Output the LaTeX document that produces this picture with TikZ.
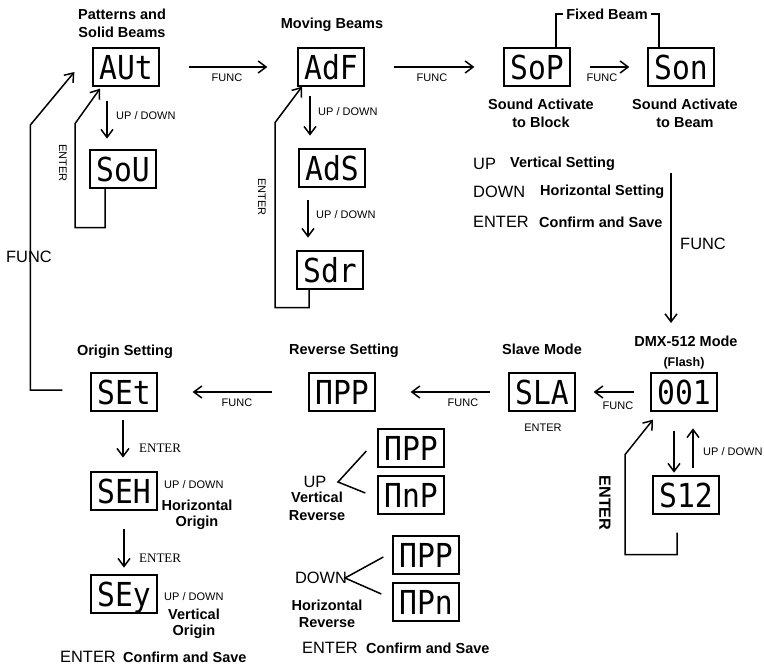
\documentclass[tikz,border=0pt]{standalone}
\usepackage{graphicx}
\usepackage{fontspec}
\setmainfont{Liberation Sans}
\newfontfamily\serifface{Liberation Serif}
\newfontfamily\dispface{DejaVu Sans Mono}
\usetikzlibrary{arrows.meta,calc}
\newcommand\dtext[1]{\scalebox{0.9}[1]{#1}}
\begin{document}
\begin{tikzpicture}[x=1pt,y=-1pt,
  disp/.style={draw,line width=1.3pt,minimum width=66pt,minimum height=38pt,inner sep=0pt,
    text height=24pt,text depth=0pt,font=\dispface\fontsize{33}{33}\selectfont},
  lbl/.style={inner sep=0pt,align=center},
  head/.style={lbl,font=\fontsize{14.5}{18}\selectfont\bfseries},
  headtight/.style={lbl,font=\fontsize{14.5}{15.5}\selectfont\bfseries},
  small/.style={lbl,font=\fontsize{11}{13}\selectfont},
  big/.style={lbl,font=\fontsize{16.4}{18}\selectfont},
  serif/.style={lbl,font=\serifface\fontsize{13}{15}\selectfont},
  line/.style={line width=1.5pt},
  arr/.style={line width=1.5pt,-{Straight Barb[length=8pt,width=12pt]}}
]
\useasboundingbox[fill=white] (0,0) rectangle (764,667);

% ---------- display boxes ----------
\node[disp] (aut) at (126,67) {\dtext{AUt}};
\node[disp] (sou) at (123,169) {\dtext{SoU}};
\node[disp] (adf) at (331,67) {\dtext{AdF}};
\node[disp] (ads) at (332,168) {\dtext{AdS}};
\node[disp] (sdr) at (330,270) {\dtext{Sdr}};
\node[disp] (sop) at (537,67) {\dtext{SoP}};
\node[disp] (son) at (681,67) {\dtext{Son}};
\node[disp] (d001) at (684,392) {\dtext{001}};
\node[disp] (s12) at (686,495) {\dtext{S12}};
\node[disp] (sla) at (542,392) {\dtext{SLA}};
\node[disp] (npp) at (342,392) {\dtext{ΠPP}};
\node[disp] (set) at (124,392) {\dtext{SEt}};
\node[disp] (seh) at (124,491) {\dtext{SEH}};
\node[disp] (sey) at (124,594) {\dtext{SEy}};
\node[disp] (npp2) at (411,448) {\dtext{ΠPP}};
\node[disp] (nnp) at (411,495) {\dtext{ΠnP}};
\node[disp] (npp3) at (426,555) {\dtext{ΠPP}};
\node[disp] (npn) at (426,602) {\dtext{ΠPn}};

% ---------- headings ----------
\node[head] (hpat) at (122,23) {Patterns and\\Solid Beams};
\node[head] (hmov) at (332,25) {Moving Beams};
\node[head] (fb) at (607,14) {Fixed Beam};
\node[head] (hsab) at (541,113) {Sound Activate\\to Block};
\node[head] (hsabeam) at (685,113) {Sound Activate\\to Beam};
\node[head] (hdmx) at (686,341) {DMX-512 Mode};
\node[lbl,font=\fontsize{12.5}{14}\selectfont\bfseries] (hflash) at (684,363) {(Flash)};
\node[head] (hslave) at (542,349) {Slave Mode};
\node[head] (hrev) at (344,351) {Reverse Setting};
\node[head] (horig) at (125,352) {Origin Setting};

% ---------- legend ----------
\node[big,anchor=west] (lup) at (473,164) {UP};
\node[head,anchor=west] (lupt) at (510,164) {Vertical Setting};
\node[big,anchor=west] (ldown) at (473,192) {DOWN};
\node[head,anchor=west] (ldownt) at (540,192) {Horizontal Setting};
\node[big,anchor=west] (lent) at (473,222) {ENTER};
\node[head,anchor=west] (lentt) at (539,222) {Confirm and Save};

% ---------- top row FUNC arrows ----------
\draw[arr,shorten <=29pt,shorten >=30pt] (aut) -- (adf);
\node[small] (f1) at (227,78) {FUNC};
\draw[arr,shorten <=29pt,shorten >=29pt] (adf) -- (sop);
\node[small] (f2) at (432,78) {FUNC};
\draw[arr,shorten <=19pt,shorten >=18pt] (sop) -- (son);
\node[small] (f3) at (602,78) {FUNC};

% Fixed Beam bracket
\draw[line] ([xshift=19pt]sop.north) |- ([xshift=-3pt]fb.west);
\draw[line] ([xshift=-22pt]son.north) |- ([xshift=3pt]fb.east);

% ---------- Patterns column ----------
\draw[arr] ([xshift=-19pt,yshift=-14pt]aut.south) -- ++(0,38);
\node[small,anchor=west] (ud1) at (116,116) {UP / DOWN};
\draw[arr] ([xshift=-18pt]sou.south) -- ++(0,39) -- ++(-30,0) -- ++(0,-104) -- ++(25,-35);
\node[small,rotate=-90] (ent1) at (63,163) {ENTER};

% ---------- Moving beams column ----------
\draw[arr] ([xshift=-21pt,yshift=-9pt]adf.south) -- ++(0,40);
\node[small,anchor=west] (ud2) at (318,112) {UP / DOWN};
\draw[arr] ([xshift=-24pt,yshift=-12pt]ads.south) -- ++(0,38);
\node[small,anchor=west] (ud3) at (316,215) {UP / DOWN};
\draw[arr] ([xshift=-21pt]sdr.south) -- ++(0,18) -- ++(-34,0) -- ++(0,-185) -- ++(27,-36);
\node[small,rotate=-90] (ent2) at (262,197) {ENTER};

% ---------- outer FUNC loop ----------
\draw[arr] ([xshift=-28pt,yshift=2pt]set.west) -- ++(-32,0) -- ++(0,-265) -- ++(44,-53);
\node[big] (f4) at (29,257) {FUNC};

% ---------- right FUNC down ----------
\coordinate (fvtop) at (671,173);
\coordinate (fvend) at (671,323);
\draw[arr] (fvtop) -- (fvend);
\node[big] (f5) at (703,244) {FUNC};

% ---------- DMX ----------
\draw[arr] ([xshift=-10pt,yshift=-19pt]d001.south) -- ++(0,42);
\draw[arr] ([xshift=7pt,yshift=7pt]s12.north) -- ++(0,-40);
\node[small,anchor=west] (ud4) at (703,452) {UP / DOWN};
\draw[arr] ([xshift=-9pt,yshift=-18pt]s12.south) -- ++(0,22) -- ++(-52,0) -- ++(0,-100) -- ++(28,-35);
\node[big,font=\fontsize{16.2}{18}\selectfont\bfseries,rotate=-90] (ent3) at (605,503) {ENTER};

% ---------- bottom row FUNC arrows ----------
\draw[arr,shorten <=16pt,shorten >=18pt] (d001) -- (sla);
\node[small] (f6) at (618,406) {FUNC};
\node[small] (ent4) at (543,428) {ENTER};
\draw[arr,shorten <=18pt,shorten >=35pt] (sla) -- (npp);
\node[small] (f7) at (463,403) {FUNC};
\draw[arr,shorten <=36pt,shorten >=35pt] (npp) -- (set);
\node[small] (f8) at (237,403) {FUNC};

% ---------- Origin column ----------
\draw[arr] ([xshift=-1pt,yshift=-8pt]set.south) -- ++(0,38);
\node[serif,anchor=west] (ent5) at (139,448) {ENTER};
\node[small,anchor=west] (ud5) at (164,485) {UP / DOWN};
\node[headtight] (hho) at (197,515) {Horizontal\\Origin};
\draw[arr] ([yshift=-18pt]seh.south) -- ++(0,39);
\node[serif,anchor=west] (ent6) at (139,558) {ENTER};
\node[small,anchor=west] (ud6) at (164,597) {UP / DOWN};
\node[head,font=\fontsize{14.5}{16}\selectfont\bfseries] (hvo) at (194,624) {Vertical\\Origin};
\node[big,anchor=west] (ent7) at (60,657) {ENTER};
\node[head,anchor=west] (cs1) at (123,657) {Confirm and Save};

% ---------- Reverse branches ----------
\coordinate (upv) at (338,482);
\draw[line] ([xshift=-11pt,yshift=-3pt]npp2.west) -- (upv) -- ([xshift=-12pt,yshift=2pt]nnp.west);
\node[big] (lup2) at (315,482) {UP};
\node[head] (hvr) at (317,506) {Vertical\\Reverse};
\coordinate (downv) at (345,578);
\draw[line] ([xshift=-9pt,yshift=-2pt]npp3.west) -- (downv) -- ([xshift=-11pt,yshift=8pt]npn.west);
\node[big] (ldown2) at (321,578) {DOWN};
\node[head,font=\fontsize{14.5}{17}\selectfont\bfseries] (hhr) at (327,614) {Horizontal\\Reverse};
\node[big,anchor=west] (ent8) at (302,648) {ENTER};
\node[head,anchor=west] (cs2) at (366,648) {Confirm and Save};
\end{tikzpicture}
\end{document}
